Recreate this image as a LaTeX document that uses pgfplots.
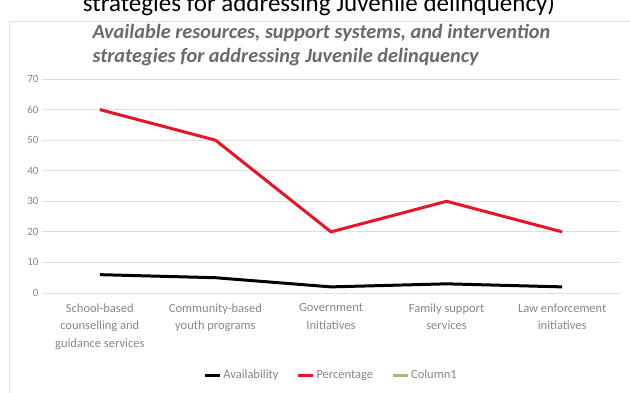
\documentclass[border=0pt]{standalone}
\usepackage{pgfplots}
\pgfplotsset{compat=1.18}
\usepackage{fontspec}
\setmainfont{Carlito}
\definecolor{gridgray}{RGB}{222,222,222}
\definecolor{ticktext}{RGB}{135,135,135}
\definecolor{titlegray}{RGB}{105,105,105}
\definecolor{exred}{RGB}{232,20,40}
\definecolor{colgreen}{RGB}{170,185,110}
\definecolor{framegray}{RGB}{225,225,225}
\begin{document}
\begin{tikzpicture}[x=1pt,y=1pt]
\useasboundingbox (0,0) rectangle (630,392);
% chart frame
\draw[framegray,line width=1pt] (9,-5) -- (9,370) -- (640,370);
% clipped heading above chart
\node[anchor=base,font=\fontsize{25}{28}\selectfont,text=black] at (319,381) {strategies for addressing Juvenile delinquency)};
% chart title
\node[align=left,anchor=north west,font=\fontsize{20.3}{24}\selectfont\bfseries\itshape,text=titlegray] at (89,371) {Available resources, support systems, and intervention\\strategies for addressing Juvenile delinquency};
\begin{axis}[
  at={(42pt,99pt)}, anchor=south west,
  scale only axis, width=578pt, height=214pt,
  xmin=-0.5, xmax=4.5, ymin=0, ymax=70,
  xtick={0,1,2,3,4},
  xticklabels={School-based\\counselling and\\guidance services, Community-based\\youth programs, Government\\Initiatives, Family support\\services, Law enforcement\\initiatives},
  xticklabel style={align=center, font=\fontsize{12.5}{17.5}\selectfont, text=ticktext, yshift=-7pt},
  ytick={0,10,...,70},
  yticklabel style={font=\fontsize{11}{12}\selectfont, text=ticktext},
  /pgf/number format/assume math mode=true,
  ymajorgrids, grid style={gridgray, line width=1pt},
  axis line style={draw=none},
  major tick length=0pt,
  legend style={at={(0.5,-0.0)}, anchor=north, yshift=-73pt, draw=none, legend columns=3, font=\fontsize{12.5}{14}\selectfont, text=ticktext, /tikz/every even column/.append style={column sep=16pt}},
  legend image code/.code={\draw[#1] (0pt,0pt) -- (15pt,0pt);},
]
\addplot[black, line width=3pt, mark=none] coordinates {(0,6) (1,5) (2,2) (3,3) (4,2)};
\addlegendentry{Availability}
\addplot[exred, line width=3pt, mark=none] coordinates {(0,60) (1,50) (2,20) (3,30) (4,20)};
\addlegendentry{Percentage}
\addlegendimage{colgreen, line width=3pt}
\addlegendentry{Column1}
\end{axis}
\end{tikzpicture}
\end{document}
